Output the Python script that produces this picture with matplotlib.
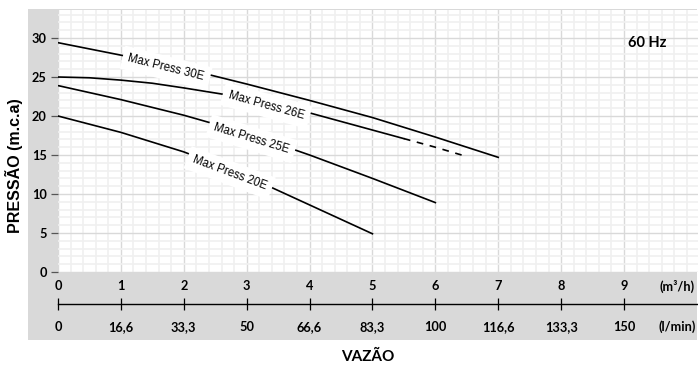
import matplotlib
matplotlib.use("Agg")
import matplotlib.pyplot as plt
from matplotlib.patches import Rectangle
from matplotlib.ticker import MultipleLocator

# ---------------- data ----------------
q30 = [0, 1, 2, 3, 4, 5, 6, 7]
h30 = [29.4, 27.8, 26.1, 24.1, 22.0, 19.8, 17.3, 14.7]

q26 = [0, 0.5, 1, 1.5, 2, 3, 4, 5, 5.5]
h26 = [25.0, 24.9, 24.6, 24.2, 23.6, 22.3, 20.4, 18.2, 17.1]
q26_dash = [5.5, 6, 6.5]
h26_dash = [17.1, 16.0, 14.8]

q25 = [0, 1, 2, 3, 4, 5, 6]
h25 = [23.9, 22.1, 20.1, 17.8, 15.0, 12.0, 8.9]

q20 = [0, 1, 2, 3, 4, 5]
h20 = [20.0, 17.9, 15.4, 12.3, 8.6, 4.9]

curve_labels = ["Max Press 30E", "Max Press 26E", "Max Press 25E", "Max Press 20E"]
label_pos = [(1.72, 26.15), (3.31, 21.35), (3.08, 17.1), (2.73, 12.7)]
label_rot = [-14, -15.5, -17, -20.5]

m3h_ticks = [0, 1, 2, 3, 4, 5, 6, 7, 8, 9]
lmin_labels = ["0", "16,6", "33,3", "50", "66,6", "83,3", "100", "116,6", "133,3", "150"]
y_ticks = [0, 5, 10, 15, 20, 25, 30]

# ---------------- figure ----------------
W, H = 698, 365
fig = plt.figure(figsize=(W / 100, H / 100), dpi=100)

# gray frame behind the plot
bg = Rectangle((28 / W, (H - 340) / H), (697 - 28) / W, (340 - 9) / H,
               transform=fig.transFigure, facecolor="#d9d9d9",
               edgecolor="none", zorder=-10)
fig.add_artist(bg)

ax = fig.add_axes([58 / W, (H - 272) / H, (698 - 58) / W, (272 - 10) / H], zorder=1)
ax.set_facecolor("white")
ax.set_xlim(0, 640 / 62.89)
ax.set_ylim(0, 262 / 7.8)
for s in ax.spines.values():
    s.set_visible(False)

ax.xaxis.set_major_locator(MultipleLocator(1))
ax.xaxis.set_minor_locator(MultipleLocator(0.2))
ax.yaxis.set_major_locator(MultipleLocator(5))
ax.yaxis.set_minor_locator(MultipleLocator(1))
ax.grid(which="minor", color="#f0f0f0", linewidth=1.2)
ax.grid(which="major", color="#d9d9d9", linewidth=1.0)
ax.set_axisbelow(True)

lab_font = "Lato"
tfs = 9.2
ax.set_xticks(m3h_ticks)
ax.set_xticklabels([str(t) for t in m3h_ticks], fontfamily=lab_font,
                   fontweight="bold", fontsize=tfs)
ax.tick_params(axis="x", which="both", length=0, pad=6)
ax.set_yticks(y_ticks)
ax.set_yticklabels([str(t) for t in y_ticks], fontfamily=lab_font,
                   fontweight="bold", fontsize=tfs)
ax.tick_params(axis="y", which="major", length=5, width=0.9, color="#555555", pad=3)
ax.tick_params(axis="y", which="minor", length=0)

# curves
lc = "black"
lw = 1.2
ax.plot(q30, h30, color=lc, lw=lw, zorder=3)
ax.plot(q26, h26, color=lc, lw=lw, zorder=3)
ax.plot(q26_dash, h26_dash, color=lc, lw=lw, ls=(0, (4, 4)), zorder=3)
ax.plot(q25, h25, color=lc, lw=lw, zorder=3)
ax.plot(q20, h20, color=lc, lw=lw, zorder=3)

for txt, (x, y), r in zip(curve_labels, label_pos, label_rot):
    ax.text(x, y, txt, rotation=r, rotation_mode="anchor", ha="center", va="center",
            fontsize=8.3, family=["Liberation Sans Narrow", "Liberation Sans"],
            color="black", zorder=5,
            bbox=dict(boxstyle="square,pad=0.5", facecolor="white", edgecolor="none"))

ax.text(0.921, (272 - 43) / 262, "60 Hz", transform=ax.transAxes, ha="center",
        va="center", fontfamily=lab_font, fontweight="bold", fontsize=10.5)

# second flow axis (l/min)
sec = ax.secondary_xaxis(-32 / 262)
sec.set_xticks(m3h_ticks)
sec.set_xticklabels(lmin_labels, fontfamily=lab_font, fontweight="bold", fontsize=tfs)
sec.tick_params(axis="x", direction="inout", length=9, width=0.9, color="black", pad=8)
sec.spines["bottom"].set_color("black")
sec.spines["bottom"].set_linewidth(1.0)

ax.text((677 - 58) / 640, -14 / 262, "(m³/h)", transform=ax.transAxes, ha="center",
        va="center", fontfamily=lab_font, fontweight="bold", fontsize=tfs)
ax.text((677 - 58) / 640, -55 / 262, "(l/min)", transform=ax.transAxes, ha="center",
        va="center", fontfamily=lab_font, fontweight="bold", fontsize=tfs)

fig.text(14 / W, (H - 166) / H, "PRESSÃO (m.c.a)", rotation=90, ha="center",
         va="center", fontfamily="Liberation Sans", fontweight="bold", fontsize=11.5)
fig.text(368 / W, (H - 357) / H, "VAZÃO", ha="center", va="center",
         fontfamily=lab_font, fontweight="bold", fontsize=11)

fig.savefig("out.png", dpi=100, facecolor="white")
